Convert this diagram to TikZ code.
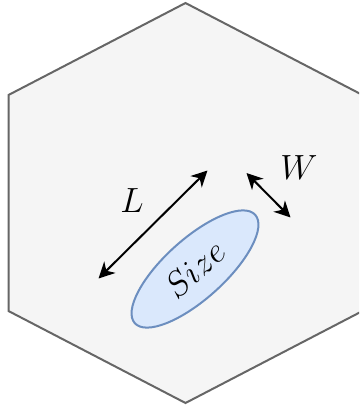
\RequirePackage{fix-cm}
\documentclass[tikz,border=0pt]{standalone}
\usetikzlibrary{arrows.meta,shapes.geometric}
\begin{document}
\begin{tikzpicture}[x=1pt,y=-1pt,
  hexbox/.style={draw=hexgray,fill=hexfill,line width=2pt,line join=miter},
  arr/.style={{Stealth[length=16pt,width=16pt,inset=5pt]}-{Stealth[length=16pt,width=16pt,inset=5pt]},line width=2pt,black},
  lbl/.style={font=\fontsize{35}{42}\selectfont,inner sep=0pt}]
\definecolor{hexgray}{HTML}{666666}
\definecolor{hexfill}{HTML}{F5F5F5}
\definecolor{ellfill}{HTML}{DAE8FC}
\definecolor{elldraw}{HTML}{6C8EBF}
\useasboundingbox (0,0) rectangle (359,407);
\begin{scope}
\clip (0,0) rectangle (359,407);
\draw[hexbox] (185.5,3) -- (362.5,95) -- (362.5,311) -- (185.5,403) -- (8.5,311) -- (8.5,95) -- cycle;
\end{scope}
\node[lbl,draw=elldraw,fill=ellfill,line width=2pt,ellipse,minimum width=162pt,minimum height=60pt,inner sep=0pt,rotate=42] (size) at (195,269) {$Size$};
\coordinate (l1) at (98.5,278.5);
\coordinate (l2) at (207.5,170.5);
\draw[arr] (l1) -- (l2);
\node[lbl] (L) at (132,201) {$L$};
\coordinate (w1) at (246.5,173);
\coordinate (w2) at (290.5,217.5);
\draw[arr] (w1) -- (w2);
\node[lbl] (W) at (299,168) {$W$};
\end{tikzpicture}
\end{document}
